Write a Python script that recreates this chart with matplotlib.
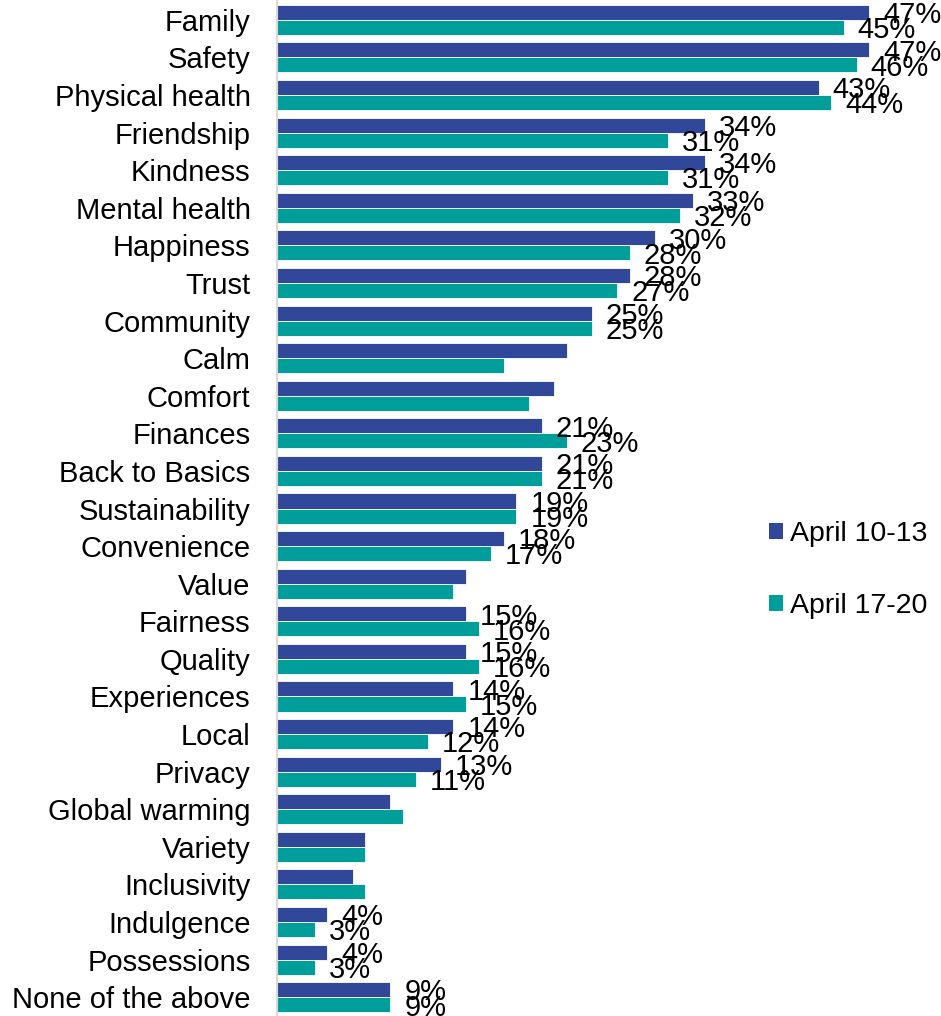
import numpy as np
import matplotlib
matplotlib.use("Agg")
import matplotlib.pyplot as plt
from matplotlib.patches import Patch

plt.rcParams["font.family"] = ["Liberation Sans", "DejaVu Sans"]

categories = [
    "Family", "Safety", "Physical health", "Friendship", "Kindness",
    "Mental health", "Happiness", "Trust", "Community", "Calm", "Comfort",
    "Finances", "Back to Basics", "Sustainability", "Convenience", "Value",
    "Fairness", "Quality", "Experiences", "Local", "Privacy",
    "Global warming", "Variety", "Inclusivity", "Indulgence", "Possessions",
    "None of the above",
]
april_10_13 = [47, 47, 43, 34, 34, 33, 30, 28, 25, 23, 22, 21, 21, 19, 18, 15,
               15, 15, 14, 14, 13, 9, 7, 6, 4, 4, 9]
april_17_20 = [45, 46, 44, 31, 31, 32, 28, 27, 25, 18, 20, 23, 21, 19, 17, 14,
               16, 16, 15, 12, 11, 10, 7, 7, 3, 3, 9]
# which categories carry data labels in the original
show_label = [True] * 9 + [False, False] + [True] * 4 + [False] + [True] * 5 \
    + [False, False, False] + [True] * 3

series_names = ["April 10-13", "April 17-20"]
colors = ["#30479A", "#009E9A"]

fig = plt.figure(figsize=(9.41, 10.16), dpi=100)
ax = fig.add_axes([277 / 941, 0.0, 1 - 277 / 941, 1015 / 1016])

y = np.arange(len(categories))
h = 0.4
for vals, off, col in [(april_10_13, -h / 2, colors[0]), (april_17_20, h / 2, colors[1])]:
    ax.barh(y + off, vals, height=h, color=col, edgecolor="white", linewidth=0.6)
    for yi, v, lab in zip(y, vals, show_label):
        if lab:
            ax.annotate(f"{v}%", (v, yi + off), xytext=(10, -2),
                        textcoords="offset points", va="center", ha="left",
                        fontsize=21, color="black")

ax.set_yticks(y)
ax.set_yticklabels(categories, fontsize=21)
ax.invert_yaxis()
ax.set_ylim(len(categories) - 0.5, -0.5)
ax.set_xlim(0, 52.7)
ax.set_xticks([])
ax.tick_params(axis="y", length=0, pad=19)
for s in ["top", "right", "bottom"]:
    ax.spines[s].set_visible(False)
ax.spines["left"].set_color("#D9D9D9")
ax.spines["left"].set_linewidth(1.5)

handles = [Patch(facecolor=c, edgecolor="none") for c in colors]
fig.legend(handles, series_names, loc="center left", bbox_to_anchor=(0.79, 0.439),
           frameon=False, fontsize=20.5, handlelength=0.5, handleheight=0.5,
           handletextpad=0.25, labelspacing=1.6)

fig.savefig("out.png", dpi=100)
